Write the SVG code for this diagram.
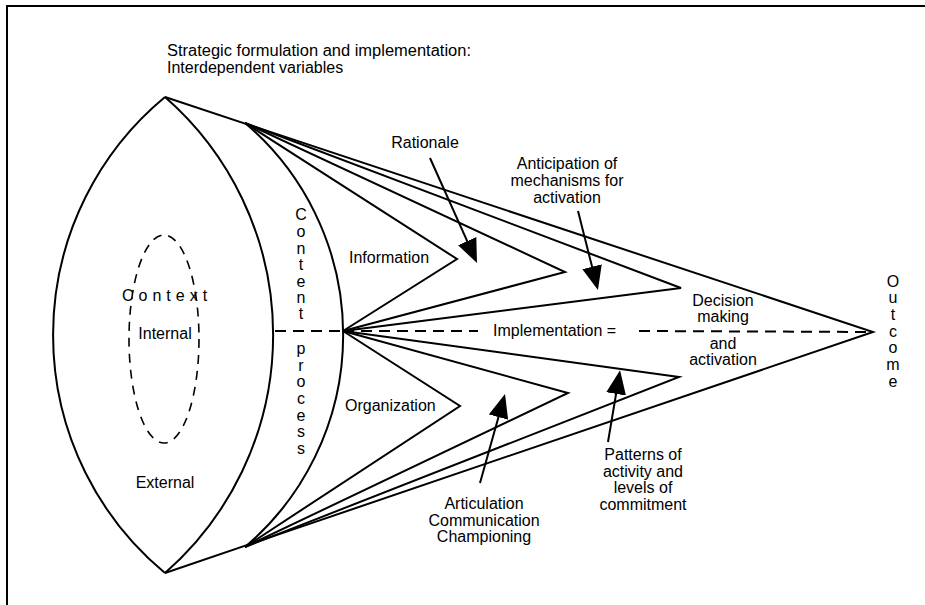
<svg xmlns="http://www.w3.org/2000/svg" width="925" height="605" viewBox="0 0 925 605">
  <style>
    .ln { fill: none; stroke: #000; stroke-width: 2; stroke-linejoin: miter; }
    .dash { fill: none; stroke: #000; stroke-width: 2; stroke-dasharray: 11 7; }
    .thin { fill: none; stroke: #000; stroke-width: 1.6; stroke-dasharray: 9 7; }
    .arr { fill: none; stroke: #000; stroke-width: 2; marker-end: url(#head); }
    text { font-family: "Liberation Sans", Arial, sans-serif; font-size: 16px; fill: #000; }
    .c { text-anchor: middle; }
  </style>
  <defs>
    <marker id="head" markerUnits="userSpaceOnUse" markerWidth="24" markerHeight="20" viewBox="0 0 24 20" refX="14" refY="10" orient="auto">
      <path d="M0,0 L24,10 L0,20 z" fill="#000"/>
    </marker>
  </defs>
  <rect width="925" height="605" fill="#fff"/>

  <g id="frame">
    <path class="ln" d="M7,605 L7,6 L925,6"/>
  </g>

  <g id="title">
    <text x="167" y="56" textLength="304" lengthAdjust="spacingAndGlyphs">Strategic formulation and implementation:</text>
    <text x="167" y="73">Interdependent variables</text>
  </g>

  <g id="context-lens">
    <path class="ln" d="M165,97 A309,309 0 0 0 165,573"/>
    <path class="ln" d="M165,97 A316,316 0 0 1 165,573"/>
    <ellipse class="thin" cx="164" cy="339" rx="35" ry="104"/>
    <text x="122" y="301" style="letter-spacing:5px">Context</text>
    <text class="c" x="165" y="339">Internal</text>
    <text class="c" x="165" y="488">External</text>
  </g>

  <g id="content-process">
    <path class="ln" d="M245,123 A278,278 0 0 1 245,547"/>
    <g class="c">
      <text x="301" y="220">C</text>
      <text x="301" y="237">o</text>
      <text x="301" y="254">n</text>
      <text x="301" y="270">t</text>
      <text x="301" y="287">e</text>
      <text x="301" y="303">n</text>
      <text x="301" y="319">t</text>
      <text x="301" y="354">p</text>
      <text x="301" y="371">r</text>
      <text x="301" y="387">o</text>
      <text x="301" y="404">c</text>
      <text x="301" y="421">e</text>
      <text x="301" y="437">s</text>
      <text x="301" y="454">s</text>
    </g>
  </g>

  <g id="cone">
    <path class="ln" d="M165,97 L873,332 L165,573"/>
    <text class="c" x="723" y="306">Decision</text>
    <text class="c" x="723" y="322">making</text>
    <text class="c" x="723" y="349">and</text>
    <text class="c" x="723" y="365">activation</text>
  </g>

  <g id="information">
    <path class="ln" d="M245,123 L457,259 L343,331"/>
    <text x="349" y="263">Information</text>
  </g>
  <g id="rationale-fan">
    <path class="ln" d="M245,123 L565,272 L343,331"/>
  </g>
  <g id="anticipation-fan">
    <path class="ln" d="M245,123 L681,288 L343,331"/>
  </g>

  <g id="organization">
    <path class="ln" d="M343,331 L460,406 L245,547"/>
    <text x="345" y="411">Organization</text>
  </g>
  <g id="articulation-fan">
    <path class="ln" d="M343,331 L568,393 L245,547"/>
  </g>
  <g id="patterns-fan">
    <path class="ln" d="M343,331 L679,377 L245,547"/>
  </g>

  <g id="implementation">
    <path class="dash" d="M275,331 L343,331"/>
    <path class="dash" d="M343,331 L478,331"/>
    <path class="dash" d="M639,331 L873,332"/>
    <text x="493" y="336">Implementation =</text>
  </g>

  <g id="outcome" class="c">
    <text x="893" y="287">O</text>
    <text x="893" y="303">u</text>
    <text x="893" y="320">t</text>
    <text x="893" y="337">c</text>
    <text x="893" y="353">o</text>
    <text x="893" y="370">m</text>
    <text x="893" y="387">e</text>
  </g>

  <g id="rationale">
    <text class="c" x="425" y="148">Rationale</text>
  </g>
  <g id="anticipation">
    <text class="c" x="567" y="169">Anticipation of</text>
    <text class="c" x="567" y="186">mechanisms for</text>
    <text class="c" x="567" y="203">activation</text>
  </g>
  <g id="articulation">
    <text class="c" x="484" y="509">Articulation</text>
    <text class="c" x="484" y="526">Communication</text>
    <text class="c" x="484" y="542">Championing</text>
  </g>
  <g id="patterns">
    <text class="c" x="643" y="460">Patterns of</text>
    <text class="c" x="643" y="477">activity and</text>
    <text class="c" x="643" y="493">levels of</text>
    <text class="c" x="643" y="510">commitment</text>
  </g>

  <g id="connectors">
    <line class="arr" x1="430" y1="158" x2="472.9" y2="253.9"/>
    <line class="arr" x1="578" y1="211" x2="595.5" y2="280.3"/>
    <line class="arr" x1="480" y1="483" x2="502.3" y2="403.6"/>
    <line class="arr" x1="608" y1="442" x2="618.4" y2="380.1"/>
  </g>
</svg>
